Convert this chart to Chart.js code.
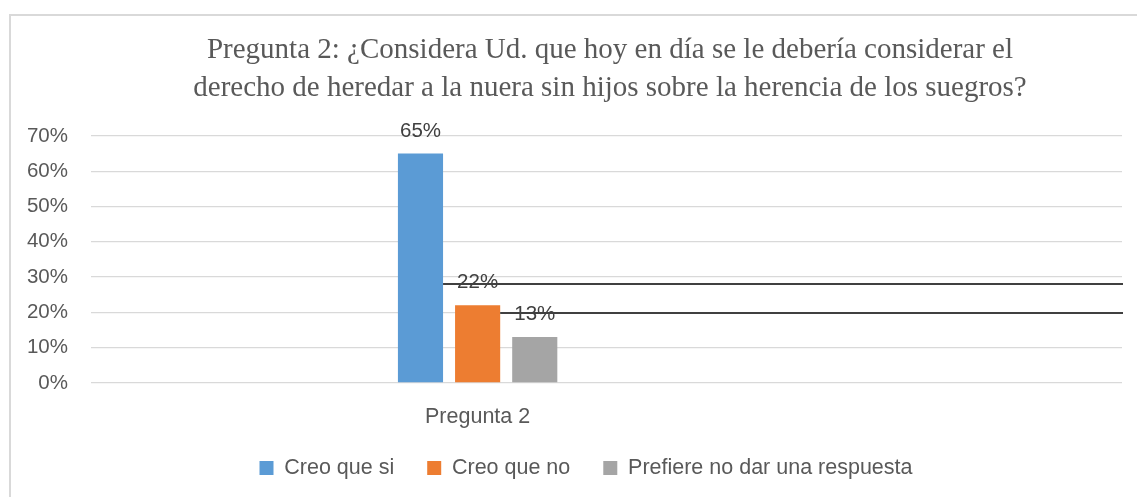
<!DOCTYPE html>
<html><head><meta charset="utf-8">
<script src="https://cdn.jsdelivr.net/npm/chart.js@4/dist/chart.umd.min.js"></script>
<style>
html,body{margin:0;padding:0;background:#fff;overflow:hidden;width:1137px;height:497px;}
#frame{position:absolute;left:9px;top:14px;width:1200px;height:600px;border:2px solid #d9d9d9;box-sizing:border-box;}
#wrap{position:absolute;left:0;top:0;width:1137px;height:497px;}
</style></head><body>
<div id="frame"></div>
<div id="wrap"><canvas id="c" width="1137" height="497"></canvas></div>
<script>
const titleLines = ['Pregunta 2: ¿Considera Ud. que hoy en día se le debería considerar el',
                    'derecho de heredar a la nuera sin hijos sobre la herencia de los suegros?'];
const categories = ['', 'Pregunta 2', '', ''];
const seriesNames = ['Creo que si', 'Creo que no', 'Prefiere no dar una respuesta'];
const creoQueSi = [null, 0.65, null, null];
const creoQueNo = [null, 0.22, null, null];
const prefiereNo = [null, 0.13, null, null];
const valueLabels = ['65%', '22%', '13%'];
const yTickValues = [0, 0.1, 0.2, 0.3, 0.4, 0.5, 0.6, 0.7];
const overlayLevels = [0.281, 0.197];

const colors = ['#5B9BD5', '#ED7D31', '#A5A5A5'];
const txt = '#595959';
const sans = "'Liberation Sans', Arial, sans-serif";

const labelsPlugin = {
  id: 'valueLabels',
  afterDatasetsDraw(chart) {
    const ctx = chart.ctx;
    ctx.save();
    ctx.font = '20.5px ' + sans;
    ctx.fillStyle = '#404040';
    ctx.textAlign = 'center';
    ctx.textBaseline = 'alphabetic';
    chart.data.datasets.forEach((ds, i) => {
      const meta = chart.getDatasetMeta(i);
      meta.data.forEach((el, j) => {
        if (ds.data[j] == null) return;
        ctx.fillText(valueLabels[i], el.x, el.y - 17);
      });
    });
    const y = chart.scales.y;
    ctx.strokeStyle = '#404040';
    ctx.lineWidth = 2;
    overlayLevels.forEach((lvl, i) => {
      const el = chart.getDatasetMeta(i).data[1];
      const x0 = el.x + el.width / 2;
      const py = Math.round(y.getPixelForValue(lvl));
      ctx.beginPath();
      ctx.moveTo(x0, py);
      ctx.lineTo(chart.chartArea.right + 1, py);
      ctx.stroke();
    });
    ctx.restore();
  }
};

const shiftPlugin = {
  id: 'shiftBoxes',
  afterLayout(chart) {
    if (chart.titleBlock) { chart.titleBlock.left += 49; chart.titleBlock.right += 49; }
    if (chart.legend) { chart.legend.left += 25; chart.legend.right += 25; }
    if (chart.scales.x) { chart.scales.x.bottom += 20; }
  }
};

new Chart(document.getElementById('c'), {
  type: 'bar',
  data: {
    labels: categories,
    datasets: [
      { label: seriesNames[0], data: creoQueSi, backgroundColor: colors[0] },
      { label: seriesNames[1], data: creoQueNo, backgroundColor: colors[1] },
      { label: seriesNames[2], data: prefiereNo, backgroundColor: colors[2] }
    ]
  },
  options: {
    responsive: false,
    animation: false,
    devicePixelRatio: 1,
    categoryPercentage: 0.665,
    barPercentage: 0.79,
    layout: { padding: { left: 0, right: 15, top: 0, bottom: 8.25 } },
    scales: {
      x: {
        afterFit(scale) { scale.height = 41.25; },
        grid: { display: false, drawTicks: false },
        border: { display: false },
        ticks: { color: txt, font: { family: sans, size: 21.5 }, padding: 21.1, maxRotation: 0, autoSkip: false }
      },
      y: {
        min: 0, max: 0.7,
        afterFit(scale) { scale.width = 91; },
        afterBuildTicks(scale) { scale.ticks = yTickValues.map(v => ({ value: v })); },
        grid: { color: '#d9d9d9', lineWidth: 1.3, drawTicks: false },
        border: { display: false },
        ticks: {
          color: txt, font: { family: sans, size: 20.5 }, padding: 23,
          callback: v => Math.round(v * 100) + '%'
        }
      }
    },
    plugins: {
      title: {
        display: true,
        text: titleLines,
        color: txt,
        font: { family: "'Liberation Serif', 'Times New Roman', serif", size: 29, weight: 'normal', lineHeight: 1.3 },
        padding: { top: 31.5, bottom: 29 }
      },
      legend: {
        position: 'bottom',
        labels: {
          color: txt,
          font: { family: sans, size: 21.5 },
          boxWidth: 14, boxHeight: 14,
          padding: 33
        }
      },
      tooltip: { enabled: false }
    }
  },
  plugins: [labelsPlugin, shiftPlugin]
});
</script>
</body></html>
